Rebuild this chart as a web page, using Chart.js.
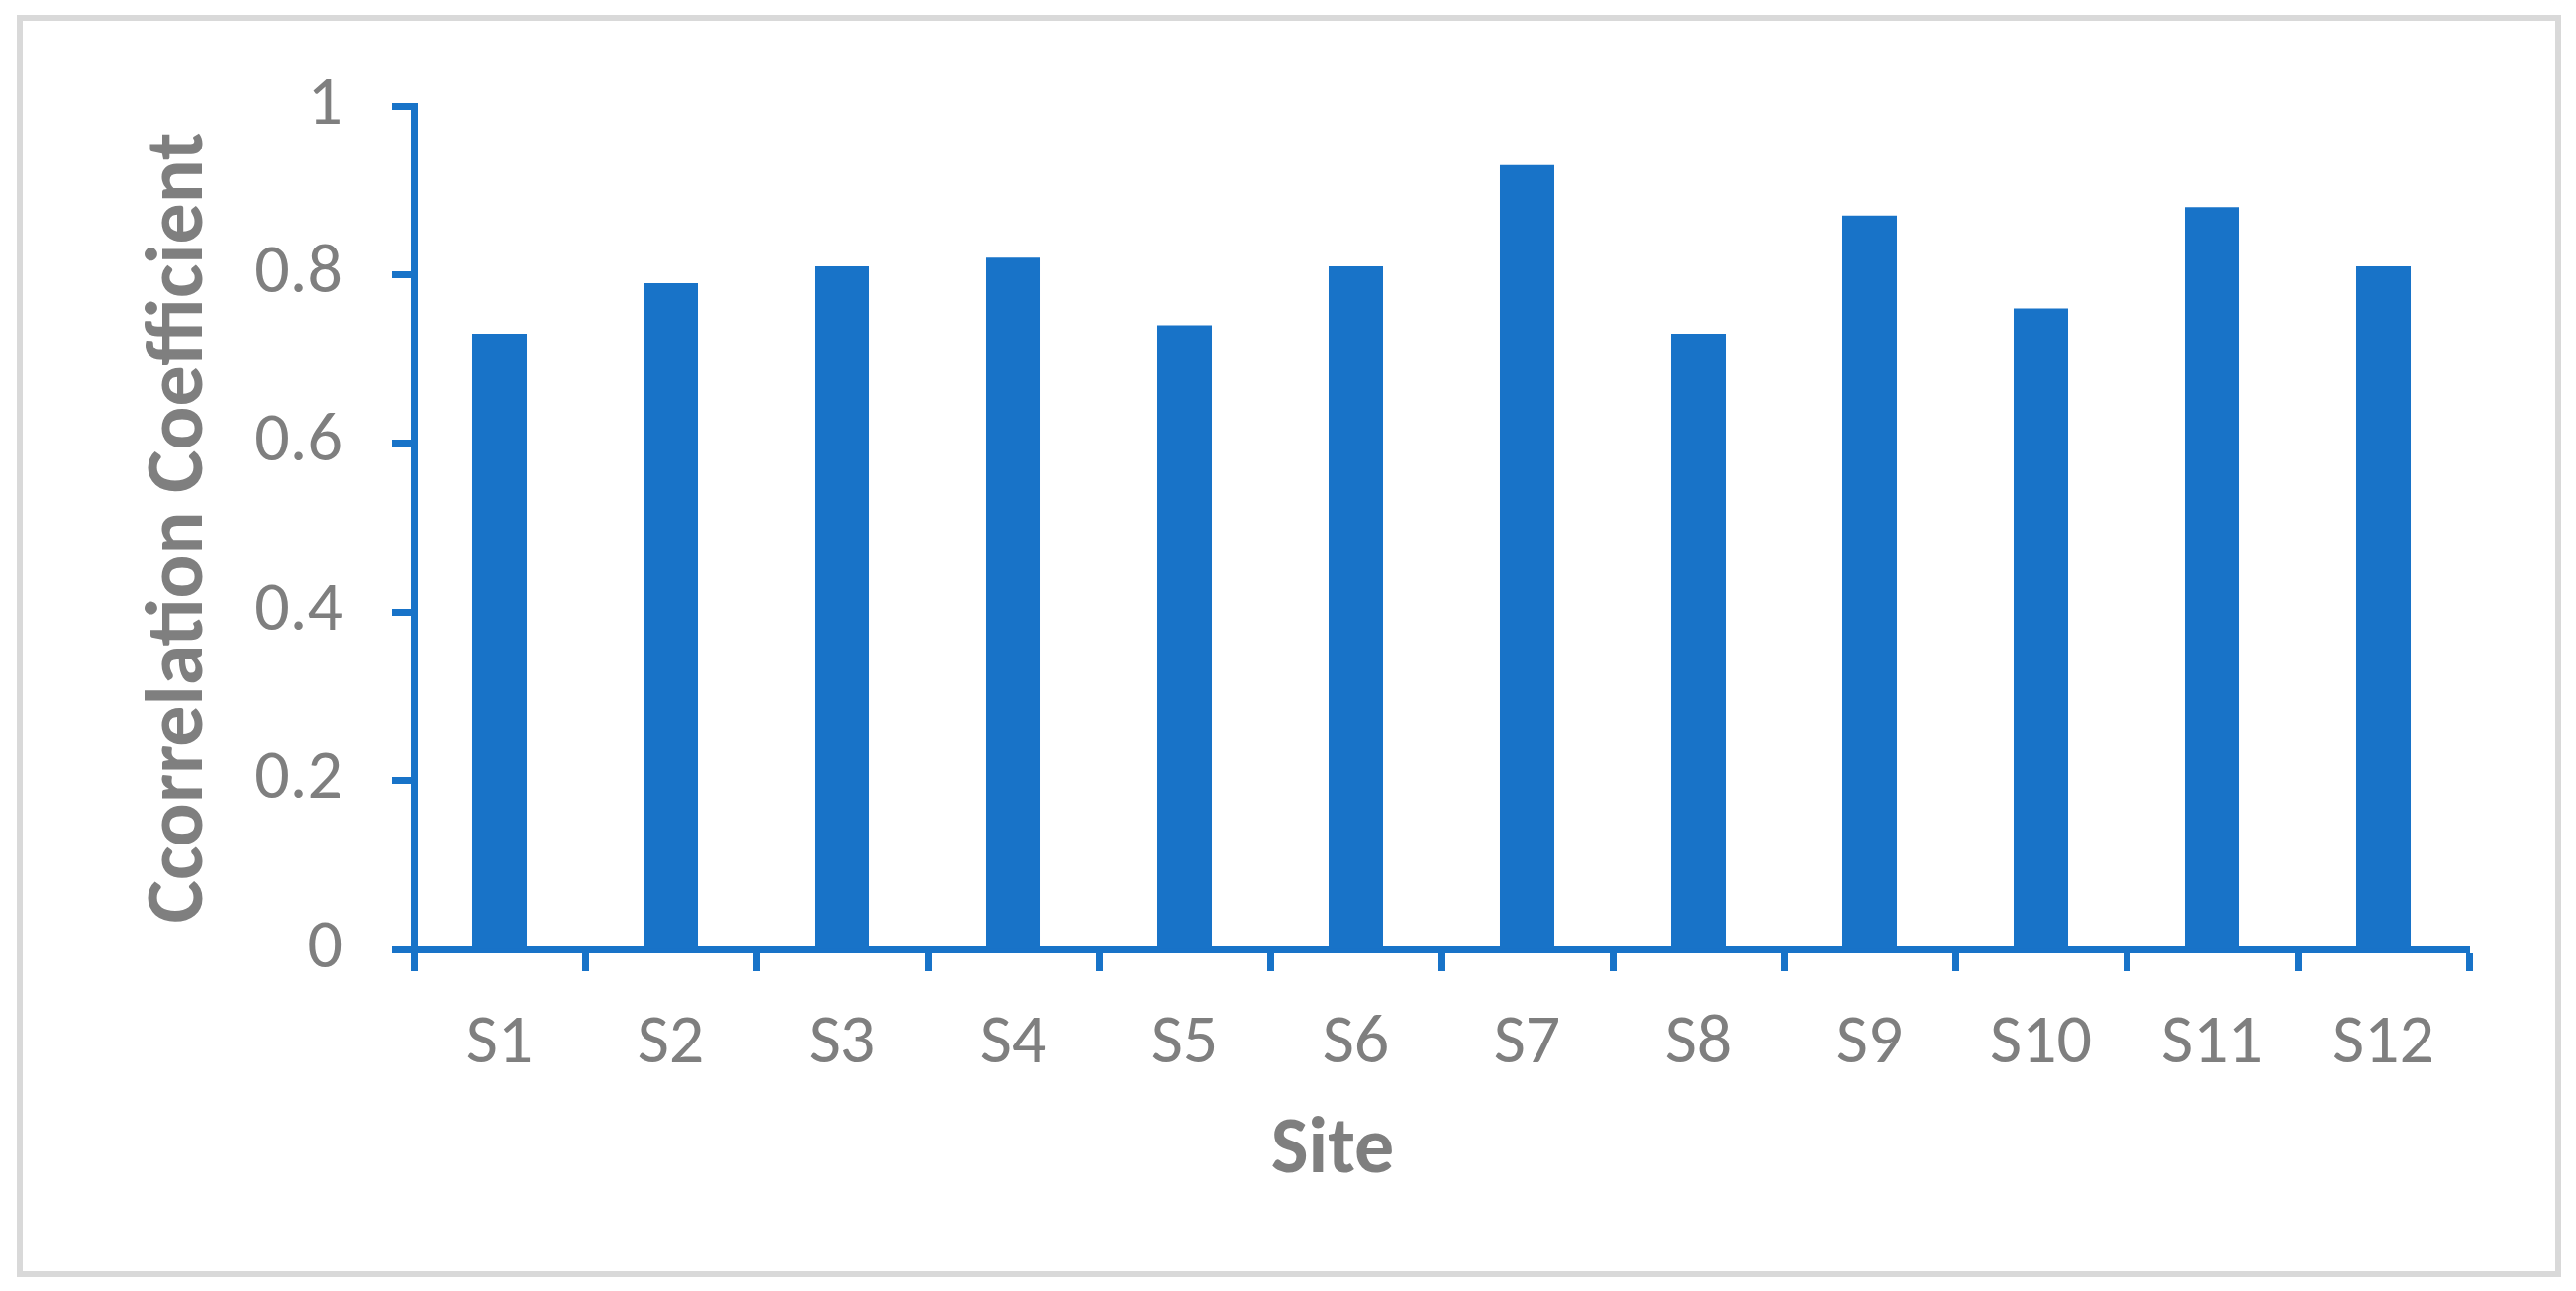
<!DOCTYPE html>
<html>
<head>
<meta charset="utf-8">
<style>
  html, body { margin: 0; padding: 0; background: #ffffff; }
  #wrap { position: relative; width: 2602px; height: 1304px; }
</style>
<script src="https://cdn.jsdelivr.net/npm/chart.js@4.4.0/dist/chart.umd.min.js"></script>
</head>
<body>
<div id="wrap"><canvas id="siteChart" width="2602" height="1304"></canvas></div>
<script>
const sites = ['S1', 'S2', 'S3', 'S4', 'S5', 'S6', 'S7', 'S8', 'S9', 'S10', 'S11', 'S12'];
const coefficients = [0.73, 0.79, 0.81, 0.82, 0.74, 0.81, 0.93, 0.73, 0.87, 0.76, 0.88, 0.81];
const yTitle = 'Ccorrelation Coefficient';
const xTitle = 'Site';

const blue = '#1873c8';
const grey = '#7f7f7f';

Chart.defaults.font.family = 'Carlito, Calibri, Lato, sans-serif';
Chart.defaults.color = grey;

// frame round the chart + x axis title
const framePlugin = {
  id: 'frame',
  beforeDraw(chart) {
    const c = chart.ctx;
    c.save();
    c.fillStyle = '#ffffff';
    c.fillRect(0, 0, chart.width, chart.height);
    c.strokeStyle = '#d9d9d9';
    c.lineWidth = 6;
    c.strokeRect(20, 18, 2564, 1269);
    c.restore();
  },
  afterDraw(chart) {
    const c = chart.ctx;
    c.save();
    c.font = 'bold 80px Carlito, Calibri, Lato, sans-serif';
    c.fillStyle = grey;
    c.textAlign = 'center';
    c.textBaseline = 'alphabetic';
    c.fillText(xTitle, 1346, 1184);
    c.restore();
  }
};

const ctx = document.getElementById('siteChart').getContext('2d');
const siteChart = new Chart(ctx, {
  type: 'bar',
  data: {
    labels: sites,
    datasets: [{
      data: coefficients,
      backgroundColor: blue,
      borderWidth: 0,
      categoryPercentage: 1,
      barPercentage: 0.318
    }]
  },
  options: {
    responsive: false,
    devicePixelRatio: 1,
    animation: false,
    layout: { padding: { left: 0, top: 107, right: 108, bottom: 0 } },
    plugins: {
      legend: { display: false },
      tooltip: { enabled: false }
    },
    scales: {
      x: {
        offset: true,
        grid: {
          offset: true,
          drawOnChartArea: false,
          drawTicks: true,
          tickLength: 22,
          tickWidth: 7,
          color: blue
        },
        border: { color: blue, width: 7 },
        ticks: { font: { size: 70 }, color: grey, padding: 32, maxRotation: 0 },
        afterFit(scale) { scale.height = 345; }
      },
      y: {
        min: 0,
        max: 1,
        grid: {
          drawOnChartArea: false,
          drawTicks: true,
          tickLength: 22,
          tickWidth: 7,
          color: blue
        },
        border: { color: blue, width: 7 },
        ticks: {
          stepSize: 0.2,
          font: { size: 70 },
          color: grey,
          padding: 50,
          callback: (v) => String(Number(v.toFixed(1)))
        },
        title: {
          display: true,
          text: yTitle,
          color: grey,
          font: { size: 82, weight: 'bold' },
          padding: { top: 134, bottom: 0 }
        },
        afterFit(scale) { scale.width = 418; }
      }
    }
  },
  plugins: [framePlugin]
});
</script>
</body>
</html>
